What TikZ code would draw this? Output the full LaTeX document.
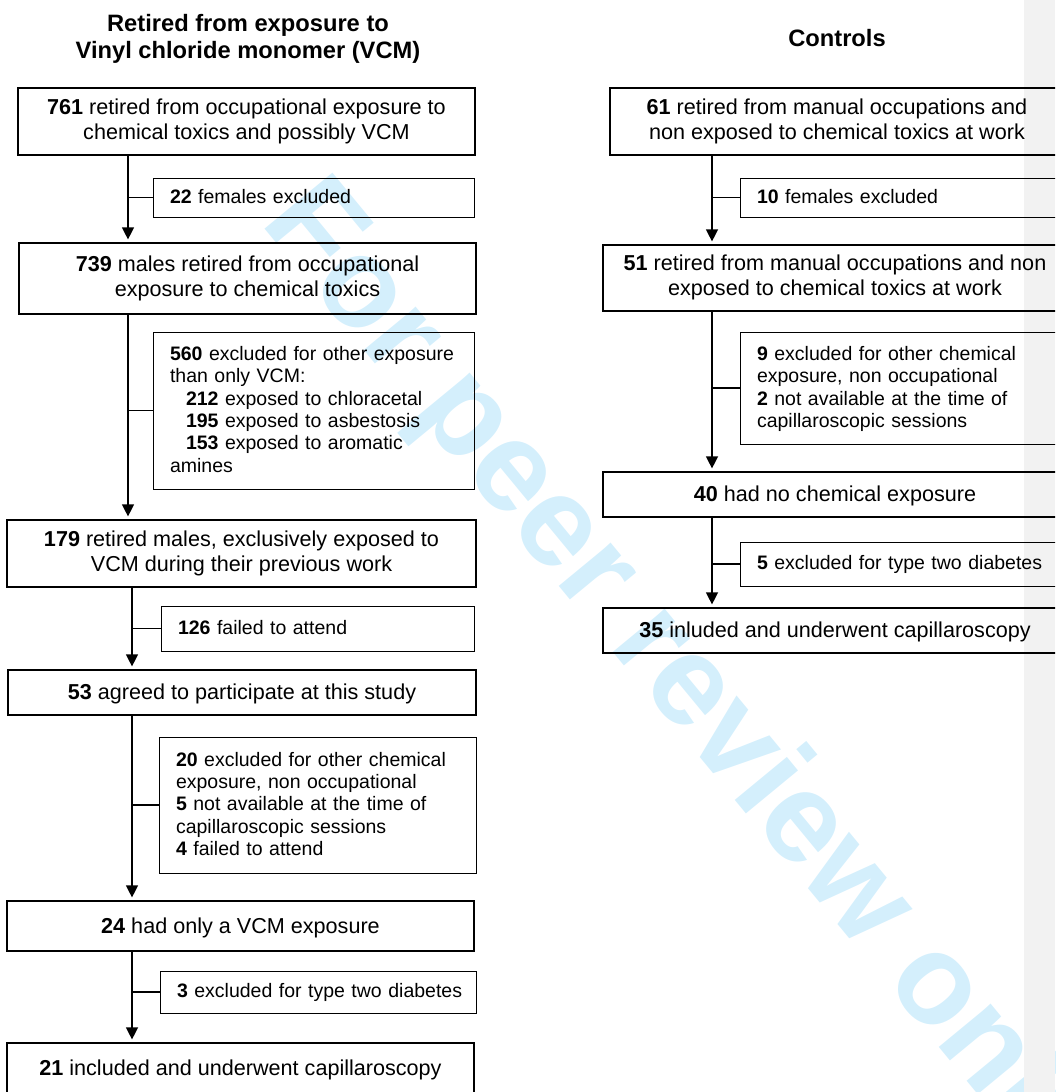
\documentclass[tikz,border=0pt]{standalone}
\usepackage{fontspec}
\setmainfont{Liberation Sans}
\usepackage{tikz}
\usetikzlibrary{arrows.meta,positioning,calc}
\definecolor{wmblue}{RGB}{212,239,252}
\definecolor{sidegray}{HTML}{F2F2F2}
\newcommand{\mainfs}{\fontsize{21.6}{24.9}\selectfont}
\newcommand{\exclfs}{\fontsize{19.5}{22.4}\selectfont}
\newcommand{\titlefs}{\fontsize{23.7}{27}\selectfont\bfseries}
\newcommand{\mainstrut}{\rule[-5pt]{0pt}{24.9pt}}
\newcommand{\exclstrut}{\rule[-5.4pt]{0pt}{22.4pt}}
\tikzset{
  mainbox/.style={draw, line width=1.2pt, inner sep=0pt, align=center, font=\mainfs,
    execute at begin node=\mainstrut, execute at end node=\mainstrut},
  exclbox/.style={draw, line width=1pt, inner xsep=17pt, inner ysep=0pt, align=left,
    font=\exclfs, text width=#1, execute at begin node=\exclstrut,
    execute at end node=\exclstrut},
  headtext/.style={align=center, font=\titlefs, inner sep=0pt},
  flowline/.style={line width=1.3pt},
  flowarrow/.style={flowline, -{Triangle[width=12pt,length=12pt]}, shorten >=3pt},
  watermark/.style={font=\fontsize{128}{140}\selectfont\bfseries, text=wmblue,
    rotate=-50.5, anchor=base, inner sep=0pt}
}

\begin{document}
\begin{tikzpicture}[x=1pt,y=-1pt]
  \useasboundingbox (0,0) rectangle (1055,1092);
  \clip (0,0) rectangle (1055,1092);
  % background
  \node[watermark] (wm) at (655,703) {For peer review only};
  \fill[sidegray] (1024,0) rectangle (1055,1092);

  % headings
  \node[headtext] (hvcm) at (248,38.5) {Retired from exposure to\\Vinyl chloride monomer (VCM)};
  \node[headtext] (hctl) at (837,38.5) {Controls};

  % VCM column
  \node[mainbox, minimum width=457pt, minimum height=67pt] (n761) at (246.5,121.5)
    {\textbf{761} retired from occupational exposure to\\chemical toxics and possibly VCM};
  \node[exclbox=287pt, minimum height=39pt] (x22) at (313.5,197.5)
    {\textbf{22} females excluded};
  \node[mainbox, minimum width=457pt, minimum height=71pt] (n739) at (247.5,278.5)
    {\textbf{739} males retired from occupational\\exposure to chemical toxics};
  \node[exclbox=287pt, minimum height=157pt] (x560) at (313.5,410.5)
    {\textbf{560} excluded for other exposure\\than only VCM:\\
     \hspace*{16pt}\textbf{212} exposed to chloracetal\\
     \hspace*{16pt}\textbf{195} exposed to asbestosis\\
     \hspace*{16pt}\textbf{153} exposed to aromatic\\amines};
  \node[mainbox, minimum width=469pt, minimum height=67pt] (n179) at (241.5,553.5)
    {\textbf{179} retired males, exclusively exposed to\\VCM during their previous work};
  \node[exclbox=279pt, minimum height=45pt] (x126) at (317.5,628.5)
    {\textbf{126} failed to attend};
  \node[mainbox, minimum width=468pt, minimum height=45pt] (n53) at (242,692.5)
    {\textbf{53} agreed to participate at this study};
  \node[exclbox=283pt, minimum height=136pt] (x20) at (317.5,805)
    {\textbf{20} excluded for other chemical\\exposure, non occupational\\
     \textbf{5} not available at the time of\\capillaroscopic sessions\\
     \textbf{4} failed to attend};
  \node[mainbox, minimum width=467pt, minimum height=50pt] (n24) at (240.5,926)
    {\textbf{24} had only a VCM exposure};
  \node[exclbox=282pt, minimum height=42pt] (x3) at (318,992)
    {\mbox{\textbf{3} excluded for type two diabetes}};
  \node[mainbox, minimum width=467pt, minimum height=50pt] (n21) at (240.5,1068)
    {\textbf{21} included and underwent capillaroscopy};

  % control column
  \node[mainbox, minimum width=454pt, minimum height=67pt] (n61) at (837,121.5)
    {\textbf{61} retired from manual occupations and\\non exposed to chemical toxics at work};
  \node[exclbox=296pt, minimum height=39pt] (x10) at (905,197.5)
    {\textbf{10} females excluded};
  \node[mainbox, minimum width=464pt, minimum height=66pt] (n51) at (835,278)
    {\textbf{51} retired from manual occupations and non\\exposed to chemical toxics at work};
  \node[exclbox=296pt, minimum height=112pt] (x9) at (905,388)
    {\textbf{9} excluded for other chemical\\exposure, non occupational\\
     \textbf{2} not available at the time of\\capillaroscopic sessions};
  \node[mainbox, minimum width=464pt, minimum height=45pt] (n40) at (835,494.5)
    {\textbf{40} had no chemical exposure};
  \node[exclbox=296pt, minimum height=44pt] (x5) at (905,564)
    {\textbf{5} excluded for type two diabetes};
  \node[mainbox, minimum width=464pt, minimum height=45pt] (n35) at (835,630.5)
    {\textbf{35} inluded and underwent capillaroscopy};

  % trunk lines
  \coordinate (lu) at (128,0);
  \coordinate (ll) at (132,0);
  \coordinate (rc) at (712,0);
  \foreach \from/\to/\excl/\trunk in {n761/n739/x22/lu, n739/n179/x560/lu,
      n179/n53/x126/ll, n53/n24/x20/ll, n24/n21/x3/ll,
      n61/n51/x10/rc, n51/n40/x9/rc, n40/n35/x5/rc} {
    \draw[flowarrow] (\from.south -| \trunk) -- (\to.north -| \trunk);
    \draw[flowline] (\excl.west) -- (\excl.west -| \trunk);
  }
\end{tikzpicture}
\end{document}
